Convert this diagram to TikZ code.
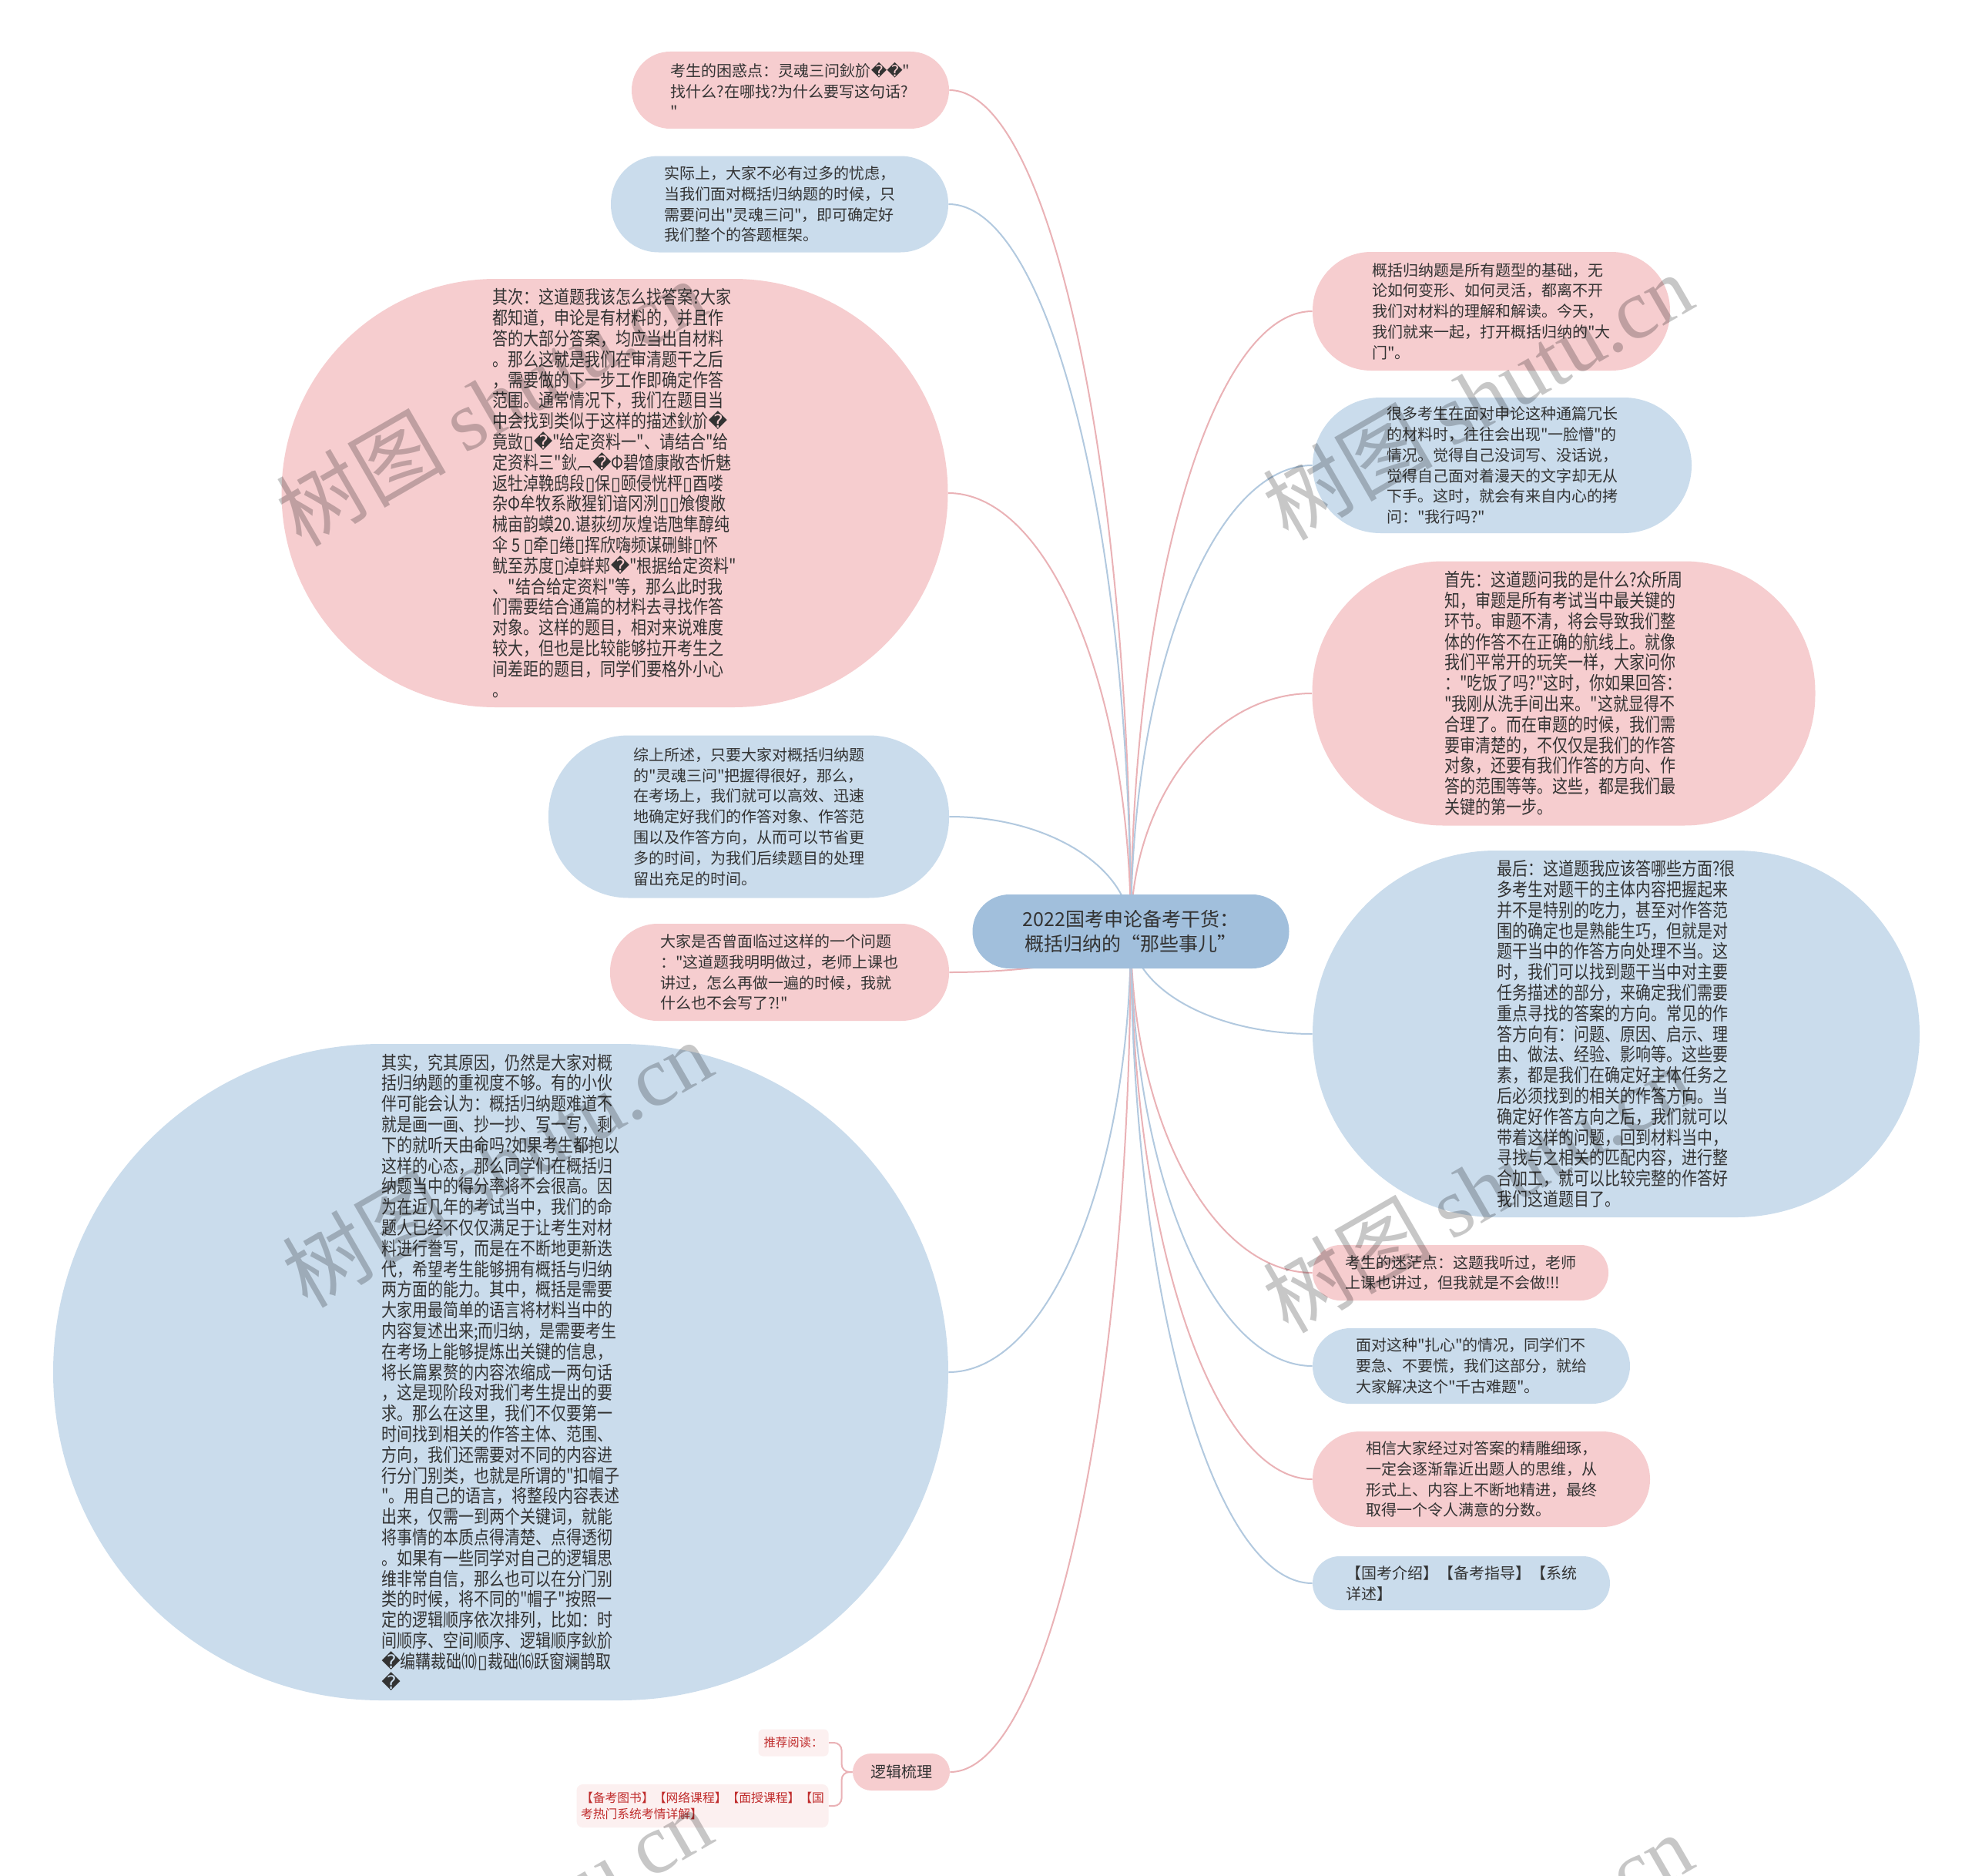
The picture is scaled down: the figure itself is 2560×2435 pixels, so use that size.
\documentclass[tikz,border=0pt]{standalone}
\usepackage{fontspec}
\setmainfont{Noto Sans CJK SC}[Ligatures=TeXOff]
\newfontfamily\cjknarrow{Noto Sans CJK SC}[FakeStretch=0.833,Ligatures=TeXOff]
\newfontfamily\dejavu{DejaVu Sans}
\newfontfamily\wmserif{Liberation Serif}
\usetikzlibrary{calc,backgrounds}

\definecolor{pinkF}{RGB}{246,205,207}
\definecolor{blueF}{RGB}{202,220,236}
\definecolor{rootF}{RGB}{161,191,220}
\definecolor{pinkL}{RGB}{234,178,182}
\definecolor{blueL}{RGB}{178,201,223}
\definecolor{txt}{RGB}{51,51,51}
\definecolor{redT}{RGB}{192,44,44}
\definecolor{paleF}{RGB}{252,240,240}

\newcommand\rpc{{\dejavu\symbol{"FFFD}}}
\newcommand\tofu{{\dejavu\symbol{"25AF}}}
\newcommand\lnk[2]{\draw[#1] let \p1=(root.center), \p2=(#2) in (\p1) .. controls (\x1,{\y1+0.552*(\y2-\y1)}) and ({\x2+0.552*(\x1-\x2)},\y2) .. (\p2);}

\begin{document}
\begin{tikzpicture}[x=0.5pt,y=-0.5pt,
  bub/.style={rectangle, inner sep=0pt, align=left, text=txt, font=\fontsize{10}{13.4}\selectfont},
  big/.style={bub, font=\cjknarrow\fontsize{12}{13.4}\selectfont},
  pk/.style={fill=pinkF}, bl/.style={fill=blueF},
  lkp/.style={draw=pinkL, line width=1pt},
  lkb/.style={draw=blueL, line width=1pt},
  wm/.style={rotate=30, text=black, text opacity=0.22, inner sep=0pt, font=\fontsize{55}{60}\selectfont}
]
\useasboundingbox (0,0) rectangle (2560,2435);

% root
\node[bub, fill=rootF, align=center, minimum width=205.5pt, minimum height=48pt, rounded corners=24pt,
      font=\fontsize{12.5}{16}\selectfont] (root) at (1468,1209)
  {2022国考申论备考干货：\\概括归纳的“那些事儿”};

% left side
\node[bub, pk, minimum width=206pt, minimum height=50pt, rounded corners=25pt] (n1) at (1026,117)
  {考生的困惑点：灵魂三问鈥斺\rpc\rpc"\\找什么?在哪找?为什么要写这句话?\\"};

\node[bub, bl, minimum width=219pt, minimum height=62.5pt, rounded corners=31pt] (n2) at (1012,265)
  {实际上，大家不必有过多的忧虑，\\当我们面对概括归纳题的时候，只\\需要问出"灵魂三问"，即可确定好\\我们整个的答题框架。};

\node[big, pk, minimum width=432.5pt, minimum height=278pt, rounded corners=139pt] (n3) at (798,640)
  {其次：这道题我该怎么找答案?大家\\
都知道，申论是有材料的，并且作\\
答的大部分答案，均应当出自材料\\
。那么这就是我们在审清题干之后\\
，需要做的下一步工作即确定作答\\
范围。通常情况下，我们在题目当\\
中会找到类似于这样的描述鈥斺\rpc\\
竟敳\tofu\rpc"给定资料一"、请结合"给\\
定资料三"鈥︹\rpc Φ碧馇康敞杏忻魅\\
返牡淖鞔鸱段\tofu 保\tofu 颐侵恍枰\tofu 酉喽\\
杂Φ牟牧系敞猩钔谙冈洌\tofu\tofu 飧傻敞\\
械亩韵蟆20.谌荻纫灰煌诰虺隼醇纯\\
伞 5 \tofu 牵\tofu 绻\tofu 挥欣嗨频谋硎鲱\tofu 怀\\
鱿至苏度\tofu 淖蛘郏\rpc"根据给定资料"\\
、"结合给定资料"等，那么此时我\\
们需要结合通篇的材料去寻找作答\\
对象。这样的题目，相对来说难度\\
较大，但也是比较能够拉开考生之\\
间差距的题目，同学们要格外小心\\
。};

\node[bub, bl, minimum width=260pt, minimum height=105.5pt, rounded corners=52pt] (n4) at (972,1060)
  {综上所述，只要大家对概括归纳题\\的"灵魂三问"把握得很好，那么，\\在考场上，我们就可以高效、迅速\\地确定好我们的作答对象、作答范\\围以及作答方向，从而可以节省更\\多的时间，为我们后续题目的处理\\留出充足的时间。};

\node[bub, pk, minimum width=220pt, minimum height=63pt, rounded corners=31pt] (n5) at (1012,1262)
  {大家是否曾面临过这样的一个问题\\："这道题我明明做过，老师上课也\\讲过，怎么再做一遍的时候，我就\\什么也不会写了?!"};

\node[big, bl, minimum width=581pt, minimum height=426pt, rounded corners=213pt] (n6) at (650,1781)
  {其实，究其原因，仍然是大家对概\\
括归纳题的重视度不够。有的小伙\\
伴可能会认为：概括归纳题难道不\\
就是画一画、抄一抄、写一写，剩\\
下的就听天由命吗?如果考生都抱以\\
这样的心态，那么同学们在概括归\\
纳题当中的得分率将不会很高。因\\
为在近几年的考试当中，我们的命\\
题人已经不仅仅满足于让考生对材\\
料进行誊写，而是在不断地更新迭\\
代，希望考生能够拥有概括与归纳\\
两方面的能力。其中，概括是需要\\
大家用最简单的语言将材料当中的\\
内容复述出来;而归纳，是需要考生\\
在考场上能够提炼出关键的信息，\\
将长篇累赘的内容浓缩成一两句话\\
，这是现阶段对我们考生提出的要\\
求。那么在这里，我们不仅要第一\\
时间找到相关的作答主体、范围、\\
方向，我们还需要对不同的内容进\\
行分门别类，也就是所谓的"扣帽子\\
"。用自己的语言，将整段内容表述\\
出来，仅需一到两个关键词，就能\\
将事情的本质点得清楚、点得透彻\\
。如果有一些同学对自己的逻辑思\\
维非常自信，那么也可以在分门别\\
类的时候，将不同的"帽子"按照一\\
定的逻辑顺序依次排列，比如：时\\
间顺序、空间顺序、逻辑顺序鈥斺\\
\rpc 编鞲裁础⑽\tofu 裁础⒃跃窗斓鹊取\\
\rpc};

\node[bub, pk, minimum width=63pt, minimum height=24pt, rounded corners=12pt] (lj) at (1170,2300) {逻辑梳理};
\node[bub, fill=paleF, text=redT, minimum width=45.5pt, minimum height=17.5pt, rounded corners=3pt,
      font=\fontsize{7.7}{10.5}\selectfont] (tj) at (1030,2262) {推荐阅读：};
\node[bub, fill=paleF, text=redT, minimum width=163.5pt, minimum height=28pt, rounded corners=4pt,
      font=\fontsize{7.9}{10.5}\selectfont] (bj) at (912,2344)
  {【备考图书】【网络课程】【面授课程】【国\\考热门系统考情详解】};

% right side
\node[bub, pk, minimum width=232pt, minimum height=77pt, rounded corners=38pt] (n8) at (1936,404)
  {概括归纳题是所有题型的基础，无\\论如何变形、如何灵活，都离不开\\我们对材料的理解和解读。今天，\\我们就来一起，打开概括归纳的"大\\门"。};

\node[bub, bl, minimum width=246pt, minimum height=88pt, rounded corners=44pt] (n9) at (1950,604)
  {很多考生在面对申论这种通篇冗长\\的材料时，往往会出现"一脸懵"的\\情况。觉得自己没词写、没话说，\\觉得自己面对着漫天的文字却无从\\下手。这时，就会有来自内心的拷\\问："我行吗?"};

\node[big, pk, minimum width=326.5pt, minimum height=171.5pt, rounded corners=85pt] (n10) at (2030,900)
  {首先：这道题问我的是什么?众所周\\
知，审题是所有考试当中最关键的\\
环节。审题不清，将会导致我们整\\
体的作答不在正确的航线上。就像\\
我们平常开的玩笑一样，大家问你\\
："吃饭了吗?"这时，你如果回答：\\
"我刚从洗手间出来。"这就显得不\\
合理了。而在审题的时候，我们需\\
要审清楚的，不仅仅是我们的作答\\
对象，还要有我们作答的方向、作\\
答的范围等等。这些，都是我们最\\
关键的第一步。};

\node[big, bl, minimum width=394pt, minimum height=238pt, rounded corners=119pt] (n11) at (2098,1342)
  {最后：这道题我应该答哪些方面?很\\
多考生对题干的主体内容把握起来\\
并不是特别的吃力，甚至对作答范\\
围的确定也是熟能生巧，但就是对\\
题干当中的作答方向处理不当。这\\
时，我们可以找到题干当中对主要\\
任务描述的部分，来确定我们需要\\
重点寻找的答案的方向。常见的作\\
答方向有：问题、原因、启示、理\\
由、做法、经验、影响等。这些要\\
素，都是我们在确定好主体任务之\\
后必须找到的相关的作答方向。当\\
确定好作答方向之后，我们就可以\\
带着这样的问题，回到材料当中，\\
寻找与之相关的匹配内容，进行整\\
合加工，就可以比较完整的作答好\\
我们这道题目了。};

\node[bub, pk, minimum width=192pt, minimum height=36pt, rounded corners=18pt] (n12) at (1896,1652)
  {考生的迷茫点：这题我听过，老师\\上课也讲过，但我就是不会做!!!};

\node[bub, bl, minimum width=206pt, minimum height=49pt, rounded corners=24.5pt] (n13) at (1910,1773)
  {面对这种"扎心"的情况，同学们不\\要急、不要慌，我们这部分，就给\\大家解决这个"千古难题"。};

\node[bub, pk, minimum width=219pt, minimum height=62pt, rounded corners=31pt] (n14) at (1923,1920)
  {相信大家经过对答案的精雕细琢，\\一定会逐渐靠近出题人的思维，从\\形式上、内容上不断地精进，最终\\取得一个令人满意的分数。};

\node[bub, bl, minimum width=193pt, minimum height=35pt, rounded corners=17.5pt] (n15) at (1897,2055)
  {【国考介绍】【备考指导】【系统\\详述】};

% connectors
\begin{scope}[on background layer]
  \fill[white] (0,0) rectangle (2560,2435);
  \lnk{lkp}{n1.east}
  \lnk{lkb}{n2.east}
  \lnk{lkp}{n3.east}
  \lnk{lkb}{n4.east}
  \lnk{lkp}{n5.east}
  \lnk{lkb}{n6.east}
  \lnk{lkp}{lj.east}
  \lnk{lkp}{n8.west}
  \lnk{lkb}{n9.west}
  \lnk{lkp}{n10.west}
  \lnk{lkb}{n11.west}
  \lnk{lkp}{n12.west}
  \lnk{lkb}{n13.west}
  \lnk{lkp}{n14.west}
  \lnk{lkb}{n15.west}
  \draw[lkp, rounded corners=5pt] (lj.west) -- ++(-7pt,0) |- (tj.east);
  \draw[lkp, rounded corners=5pt] (lj.west) -- ++(-7pt,0) |- (bj.east);
\end{scope}

% watermarks
\begin{scope}
  \clip (0,0) rectangle (2560,2435);
  \node[wm] (w1) at (637,522) {树图 {\wmserif shutu.cn}};
  \node[wm] (w2) at (1918,514) {树图 {\wmserif shutu.cn}};
  \node[wm] (w3) at (645,1510) {树图 {\wmserif shutu.cn}};
  \node[wm] (w4) at (1918,1543) {树图 {\wmserif shutu.cn}};
  \node[wm] (w5) at (645,2506) {树图 {\wmserif shutu.cn}};
  \node[wm] (w6) at (1918,2539) {树图 {\wmserif shutu.cn}};
\end{scope}
\end{tikzpicture}
\end{document}
